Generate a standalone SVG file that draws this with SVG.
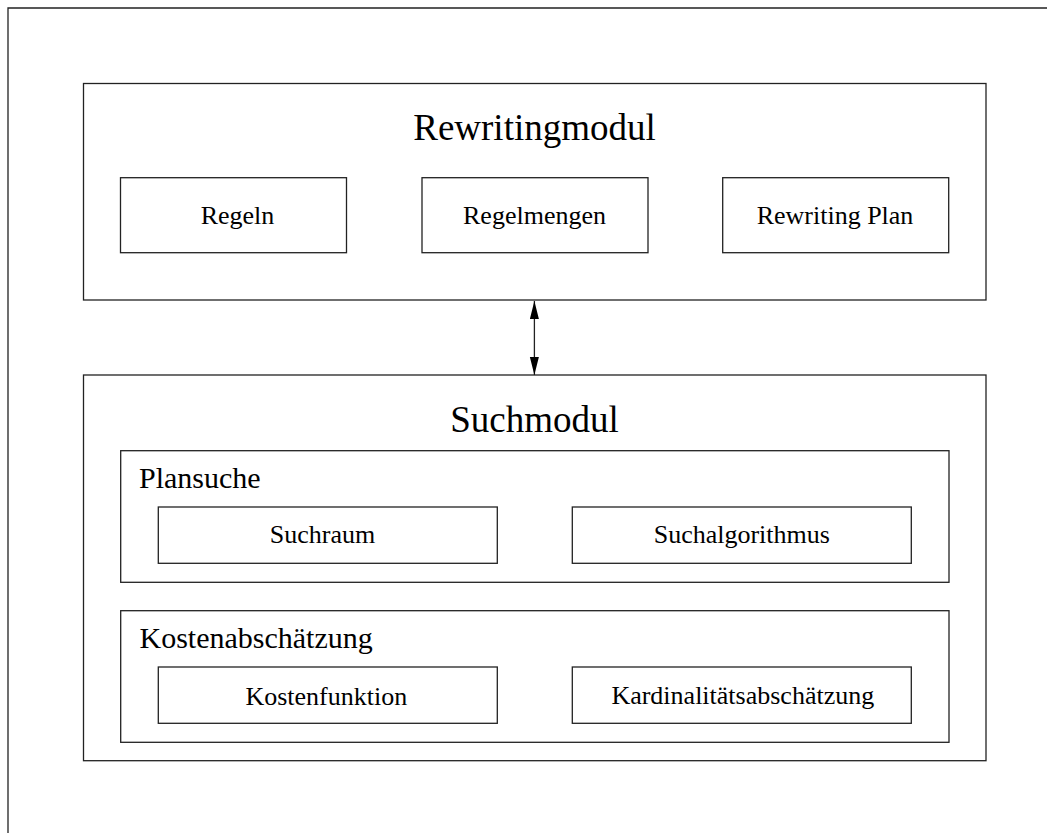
<svg xmlns="http://www.w3.org/2000/svg" width="1047" height="833" viewBox="0 0 1047 833">
<style>
.box{fill:none;stroke:#222;stroke-width:1.3}
.t{font-family:"Liberation Serif","Times New Roman",serif;fill:#000}
.big{font-size:37px;text-anchor:middle}
.mid{font-size:30px}
.sm{font-size:26px;text-anchor:middle}
.conn{stroke:#222;stroke-width:1.3;fill:none}
</style>
<defs>
<marker id="ah" markerUnits="userSpaceOnUse" markerWidth="18" markerHeight="10" refX="18" refY="4.5" orient="auto-start-reverse">
<path d="M0,0 L18,4.5 L0,9 z" fill="#000"/>
</marker>
</defs>
<path class="box" d="M8,833 V8 H1047"/>
<g id="rewritingmodul">
<rect class="box" x="83.5" y="83.5" width="902.5" height="216.5"/>
<text class="t big" x="534.5" y="140">Rewritingmodul</text>
</g>
<g id="regeln">
<rect class="box" x="120.5" y="177.7" width="226" height="75"/>
<text class="t sm" x="237.5" y="223.5">Regeln</text>
</g>
<g id="regelmengen">
<rect class="box" x="422" y="177.7" width="226" height="75"/>
<text class="t sm" x="534.5" y="223.5">Regelmengen</text>
</g>
<g id="rewritingplan">
<rect class="box" x="722.7" y="177.7" width="226" height="75"/>
<text class="t sm" x="835" y="223.5">Rewriting Plan</text>
</g>
<g id="suchmodul">
<rect class="box" x="83.5" y="375" width="902.5" height="385.7"/>
<text class="t big" x="534.5" y="431.7">Suchmodul</text>
</g>
<g id="plansuche">
<rect class="box" x="120.7" y="450.7" width="828.3" height="131.6"/>
<text class="t mid" x="139" y="488.3">Plansuche</text>
</g>
<g id="suchraum">
<rect class="box" x="158.3" y="507" width="339" height="56.3"/>
<text class="t sm" x="322.5" y="543.3">Suchraum</text>
</g>
<g id="suchalgorithmus">
<rect class="box" x="572.3" y="507" width="339" height="56.3"/>
<text class="t sm" x="741.8" y="543.3">Suchalgorithmus</text>
</g>
<g id="kostenabschaetzung">
<rect class="box" x="120.7" y="610.7" width="828.3" height="131.6"/>
<text class="t mid" x="139.5" y="648.3">Kostenabschätzung</text>
</g>
<g id="kostenfunktion">
<rect class="box" x="158.3" y="667" width="339" height="56.3"/>
<text class="t sm" x="326.3" y="705">Kostenfunktion</text>
</g>
<g id="kardinalitaet">
<rect class="box" x="572.3" y="667" width="339" height="56.3"/>
<text class="t sm" x="742.8" y="703.5">Kardinalitätsabschätzung</text>
</g>
<g id="connectors">
<line class="conn" x1="534.4" y1="301" x2="534.4" y2="375" marker-start="url(#ah)" marker-end="url(#ah)"/>
</g>
</svg>
